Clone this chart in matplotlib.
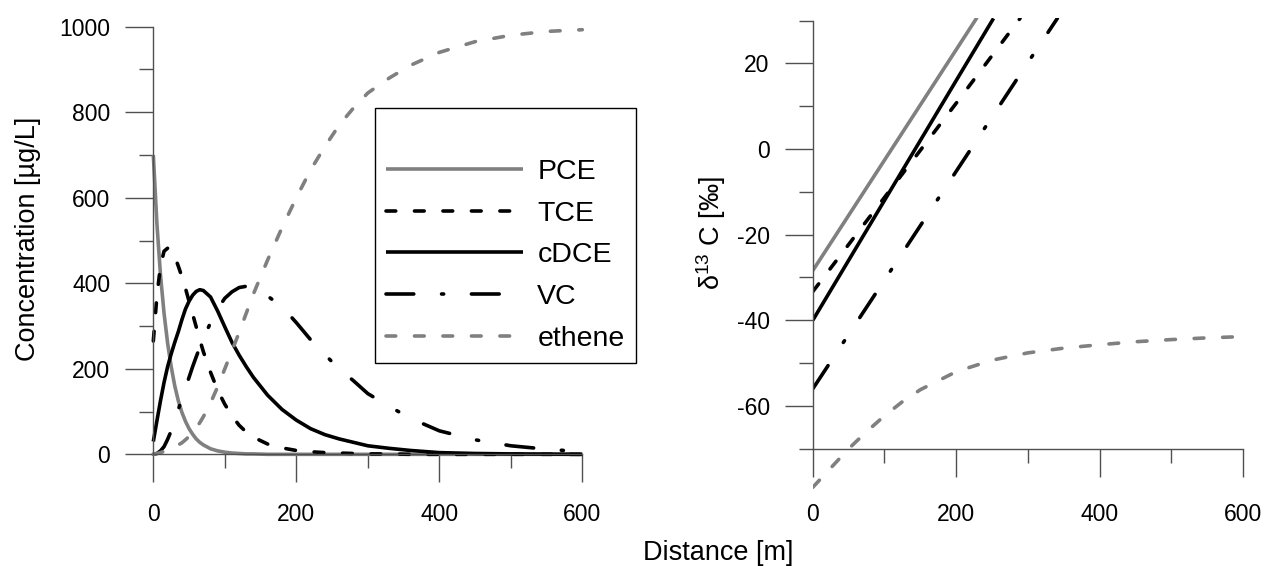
import matplotlib
matplotlib.use("Agg")
import matplotlib.pyplot as plt
from matplotlib.ticker import MultipleLocator

plt.rcParams['font.family'] = ['Liberation Sans', 'DejaVu Sans']
plt.rcParams['mathtext.fontset'] = 'custom'
plt.rcParams['mathtext.rm'] = 'Liberation Sans'
plt.rcParams['lines.scale_dashes'] = False
plt.rcParams['axes.unicode_minus'] = False

GRAY = '#808080'
AXIS = '#505050'

# Concentration profiles along the flow path [ug/L]
dist = [0, 5, 10, 15, 20, 25, 30, 35, 40, 45, 50, 55, 60, 65, 70, 80, 90, 100, 110, 120, 130,
        140, 160, 180, 200, 220, 240, 260, 280, 300, 330, 360, 400, 450, 500, 550, 600]
pce = [700, 540, 420, 330, 260, 205, 160, 125, 98, 77, 60, 47, 36, 28, 22, 13, 8, 5, 3, 2, 1,
       1, 0, 0, 0, 0, 0, 0, 0, 0, 0, 0, 0, 0, 0, 0, 0]
tce = [265, 370, 440, 475, 482, 478, 462, 440, 415, 388, 358, 328, 298, 268, 240, 192, 150, 117, 90, 68, 52,
       40, 24, 15, 9, 6, 4, 3, 2, 1, 1, 0, 0, 0, 0, 0, 0]
cdce = [30, 78, 125, 168, 205, 235, 262, 287, 315, 340, 358, 372, 381, 385, 383, 368, 335, 298, 262, 232, 205,
        180, 138, 105, 80, 60, 46, 36, 28, 20, 14, 9, 4, 2, 1, 0.5, 0]
vc = [0, 2, 8, 18, 35, 55, 80, 105, 130, 155, 180, 205, 228, 250, 270, 308, 340, 365, 380, 390, 393,
      388, 370, 345, 308, 268, 233, 200, 172, 142, 112, 84, 55, 34, 20, 12, 6]
ethene = [0, 2, 4, 7, 10, 14, 18, 22, 27, 34, 42, 51, 62, 74, 88, 120, 158, 200, 242, 285, 330,
          375, 455, 530, 600, 665, 720, 770, 810, 845, 880, 910, 940, 965, 980, 989, 993]

# Carbon isotope signatures d13C [permil]
pce_d = [0, 100, 200, 229]
pce_iso = [-28.4, -2.6, 23.2, 30.7]
tce_d = [0, 100, 200, 289]
tce_iso = [-33.3, -11.3, 10.7, 30.5]
cdce_d = [0, 100, 200, 252]
cdce_iso = [-40.0, -12.0, 16.0, 30.5]
vc_d = [0, 100, 200, 300, 341]
vc_iso = [-56.0, -30.6, -5.2, 20.2, 30.5]
eth_d = [0, 25, 50, 75, 100, 125, 150, 200, 250, 300, 350, 400, 450, 500, 550, 600]
eth_iso = [-79.0, -74.5, -70.0, -66.0, -62.3, -59.0, -56.2, -52.0, -49.3, -47.6, -46.5,
           -45.7, -45.0, -44.5, -44.1, -43.8]

names = ['PCE', 'TCE', 'cDCE', 'VC', 'ethene']
styles = [
    dict(color=GRAY, linestyle='-'),
    dict(color='black', dashes=(7, 13.5)),
    dict(color='black', linestyle='-'),
    dict(color='black', dashes=(20, 20, 1.5, 20)),
    dict(color=GRAY, dashes=(7, 13.5)),
]

fig = plt.figure(figsize=(12.65, 5.66), dpi=100)
ax1 = fig.add_axes([0.1212, 0.1973, 0.3391, 0.7555])
ax2 = fig.add_axes([0.6425, 0.1163, 0.3402, 0.8512])

for y, name, st in zip([pce, tce, cdce, vc, ethene], names, styles):
    ax1.plot(dist, y, lw=2.6, label=name, clip_on=False,
             dash_capstyle='round', solid_capstyle='butt', **st)

iso = [(pce_d, pce_iso), (tce_d, tce_iso), (cdce_d, cdce_iso), (vc_d, vc_iso), (eth_d, eth_iso)]
for (d, v), st in zip(iso, styles):
    ax2.plot(d, v, lw=2.6, dash_capstyle='round', solid_capstyle='butt', **st)

for ax in (ax1, ax2):
    for s in ('top', 'right'):
        ax.spines[s].set_visible(False)
    for s in ('left', 'bottom'):
        ax.spines[s].set_color(AXIS)
        ax.spines[s].set_linewidth(1.0)
    ax.set_xlim(0, 600)
    ax.xaxis.set_major_locator(MultipleLocator(200))
    ax.xaxis.set_minor_locator(MultipleLocator(100))
    ax.tick_params(which='major', length=20, width=1.0, color=AXIS, labelsize=16.5)
    ax.tick_params(which='minor', length=10, width=1.0, color=AXIS)
    ax.tick_params(axis='y', which='major', pad=11)
    ax.patch.set_visible(False)

ax1.set_ylim(0, 1000)
ax1.yaxis.set_major_locator(MultipleLocator(200))
ax1.yaxis.set_minor_locator(MultipleLocator(100))
ax1.tick_params(axis='x', which='major', pad=15)

ax2.set_ylim(-82, 30.5)
ax2.spines['bottom'].set_position(('data', -70))
ax2.spines['left'].set_bounds(-70, 30)
ax2.set_yticks([-60, -40, -20, 0, 20])
ax2.set_yticks([-70, -50, -30, -10, 10, 30], minor=True)
ax2.tick_params(axis='x', which='major', pad=19)

leg = ax1.legend(loc='upper left', bbox_to_anchor=(375 / 1265, 1 - 108 / 566),
                 bbox_transform=fig.transFigure, borderaxespad=0, fontsize=20.5,
                 title=' ', title_fontsize=18, handlelength=4.8, handletextpad=0.5,
                 labelspacing=0.55, borderpad=0.4, fancybox=False, framealpha=1)
leg.get_frame().set_edgecolor('black')
leg.get_frame().set_linewidth(1.0)

fig.text(28 / 1265, 1 - 239 / 566, 'Concentration [µg/L]', rotation=90,
         ha='center', va='center', fontsize=19.5)
fig.text(711 / 1265, 1 - 233 / 566, 'δ$^{\\mathregular{13}}$ C [‰]', rotation=90,
         ha='center', va='center', fontsize=19.5)
fig.text(718 / 1265, 1 - 553 / 566, 'Distance [m]', ha='center', va='center', fontsize=19.5)

fig.savefig('out.png', dpi=100)
